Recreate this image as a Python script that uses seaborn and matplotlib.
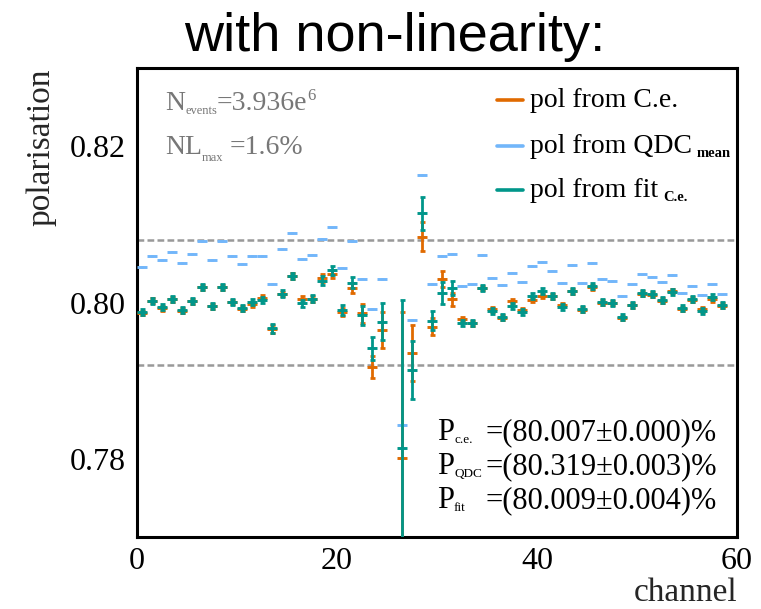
import numpy as np
import pandas as pd
import matplotlib
matplotlib.use("Agg")
import matplotlib.pyplot as plt
import seaborn as sns
from matplotlib.ticker import MultipleLocator, FuncFormatter
from matplotlib.lines import Line2D

# ---- data: per-channel polarisation from three methods ----
channel = list(range(59))
nan = float("nan")

pol_ce = [0.79865, 0.80025, 0.79925, 0.80040, 0.79895, 0.80015, 0.80195, 0.79950, 0.80195, 0.80005,
          0.79920, 0.79977, 0.80062, 0.79660, 0.80110, 0.80335, 0.80040, 0.80045, 0.80310, 0.80360,
          0.79880, 0.80185, 0.79860, 0.79170, 0.79647, nan, 0.78010, 0.79356, 0.80844, 0.79688,
          0.80297, 0.80041, 0.79788, 0.79735, 0.80185, 0.79913, 0.79805, 0.80019, 0.79904, 0.80032,
          0.80083, 0.80078, 0.79968, 0.80145, 0.79910, 0.80195, 0.79998, 0.79992, 0.79800, 0.79962,
          0.80112, 0.80100, 0.80025, 0.80147, 0.79918, 0.80036, 0.79913, 0.80041, 0.79960]
err_ce = [0.0003] * 13 + [0.0005, 0.0003, 0.0004, 0.0004, 0.0004, 0.0005, 0.0005,
          0.0005, 0.0006, 0.0012, 0.0014, 0.0023, nan, 0.0187, 0.0036, 0.0019, 0.0011,
          0.0010, 0.0008] + [0.0003] * 27

pol_qdc = [0.80451, 0.80596, 0.80545, 0.80652, 0.80502, 0.80622, 0.80788, 0.80545, 0.80788, 0.80596,
           0.80494, 0.80596, 0.80596, 0.80237, 0.80684, 0.80887, 0.80554, 0.80612, 0.80814, 0.80960,
           0.80445, 0.80790, 0.80305, 0.79917, 0.80301, nan, 0.78429, 0.79776, 0.81630, 0.80235,
           0.80592, 0.80618, 0.80212, 0.80233, 0.80609, 0.80318, 0.80221, 0.80382, 0.80259, 0.80468,
           0.80515, 0.80408, 0.80246, 0.80481, 0.80246, 0.80502, 0.80301, 0.80276, 0.80083, 0.80233,
           0.80361, 0.80331, 0.80259, 0.80353, 0.80118, 0.80215, 0.80096, 0.80233, 0.80105]
err_qdc = [0.0001] * 59

pol_fit = [0.79882, 0.80019, 0.79938, 0.80045, 0.79904, 0.80019, 0.80199, 0.79959, 0.80203, 0.80010,
           0.79925, 0.80004, 0.80032, 0.79669, 0.80115, 0.80340, 0.79988, 0.80050, 0.80280, 0.80410,
           0.79904, 0.80250, 0.79835, 0.79413, 0.79754, nan, 0.78144, 0.79135, 0.81143, 0.79765,
           0.80118, 0.80182, 0.79733, 0.79741, 0.80190, 0.79895, 0.79810, 0.79955, 0.79882, 0.80083,
           0.80151, 0.80083, 0.79946, 0.80151, 0.79915, 0.80212, 0.80003, 0.79998, 0.79810, 0.79968,
           0.80118, 0.80105, 0.80032, 0.80139, 0.79925, 0.80041, 0.79891, 0.80074, 0.79968]
err_fit = [0.0004] * 13 + [0.0006, 0.0004, 0.0004, 0.0005, 0.0004, 0.0006, 0.0006,
           0.0006, 0.0007, 0.0012, 0.0015, 0.0024, nan, 0.0189, 0.0037, 0.0021, 0.0012,
           0.0014, 0.0009] + [0.0004] * 27

series_keys = ["ce", "qdc", "fit"]
series_text = [("pol from C.e.", ""), ("pol from QDC", "mean"), ("pol from fit", "C.e.")]
band_levels = [0.808, 0.792]
results = [("c.e.", "=(80.007\u00b10.000)%"),
           ("QDC", "=(80.319\u00b10.003)%"),
           ("fit", "=(80.009\u00b10.004)%")]

df = pd.DataFrame({"channel": channel,
                   "ce": pol_ce, "ce_err": err_ce,
                   "qdc": pol_qdc, "qdc_err": err_qdc,
                   "fit": pol_fit, "fit_err": err_fit})
df["x"] = df["channel"] + 0.5

# ---- style ----
sns.set_theme(style="white")
plt.rcParams["font.family"] = ["Liberation Serif", "DejaVu Serif"]

colors = {"ce": "#E06A00", "qdc": "#72B6FA", "fit": "#00968A"}
cap_sizes = {"ce": 1.8, "qdc": 0.0, "fit": 1.8}

W, H = 761, 609
fig = plt.figure(figsize=(W / 100, H / 100), dpi=100)
ax = fig.add_axes([137 / W, 1 - 537 / H, 600 / W, 469 / H])
renderer = fig.canvas.get_renderer()


def px(x, y):
    return x / W, 1 - y / H


def chain(x, y, pieces, color="black"):
    """Write text pieces one after another; each piece is
    (string, fontsize, baseline shift in px (down is +), gap before in px, weight)."""
    cur = x
    for s, size, dy, gap, weight in pieces:
        cur += gap
        t = fig.text(*px(cur, y + dy), s, fontsize=size, color=color,
                     va="baseline", ha="left", fontweight=weight)
        cur = t.get_window_extent(renderer).x1
    return cur


# reference band
for lvl in band_levels:
    ax.axhline(lvl, color="#999999", lw=1.8, ls=(0, (2.7, 1.3)), zorder=1)

# per-channel points: channel-width bars plus vertical error bars
for key, z in (("ce", 3), ("qdc", 4), ("fit", 5)):
    hb = ax.errorbar(df["x"], df[key], xerr=0.5, fmt="none", ecolor=colors[key],
                     elinewidth=2.1, capsize=0, zorder=z)
    for coll in hb.lines[2]:
        coll.set_capstyle("butt")
    ax.errorbar(df["x"], df[key], yerr=df[key + "_err"], fmt="none",
                ecolor=colors[key], elinewidth=2.0, capsize=cap_sizes[key],
                capthick=2.0, zorder=z)

ax.set_xlim(0, 60)
ax.set_ylim(0.77, 0.83)

# axes, ticks
for s in ax.spines.values():
    s.set_linewidth(2.2)
    s.set_color("black")
ax.xaxis.set_major_locator(MultipleLocator(10))
ax.xaxis.set_minor_locator(MultipleLocator(2))
ax.xaxis.set_major_formatter(FuncFormatter(lambda v, p: f"{v:.0f}" if round(v) % 20 == 0 else ""))
ax.yaxis.set_major_locator(MultipleLocator(0.02))
ax.yaxis.set_minor_locator(MultipleLocator(0.002))
ax.yaxis.set_major_formatter(FuncFormatter(lambda v, p: f"{v:.2f}"))
ax.tick_params(axis="both", which="both", direction="in", width=2.0, color="black",
               top=False, right=False, labelsize=23, labelcolor="black")
ax.tick_params(axis="x", which="major", length=11, pad=7)
ax.tick_params(axis="x", which="minor", length=6)
ax.tick_params(axis="y", which="major", length=13, pad=8)
ax.tick_params(axis="y", which="minor", length=7)

ax.set_xlabel("channel", loc="right", fontsize=24, labelpad=1)
ax.set_ylabel("polarisation", loc="top", fontsize=24, labelpad=10)

# legend
row_y = [107, 153, 197]
for key, (label, sub), yb in zip(series_keys, series_text, row_y):
    fig.add_artist(Line2D([497 / W, 523 / W], [1 - (yb - 7) / H] * 2,
                          transform=fig.transFigure, color=colors[key], lw=2.6))
    pieces = [(label, 20, 0, 0, "normal")]
    if sub:
        pieces.append((sub, 10.5, 4, 5, "bold"))
    chain(530, yb, pieces)

# run info
chain(165, 110, [("N", 20, 0, 0, "normal"), ("events", 9, 4, 0, "normal"),
                 ("=3.936e", 20, 0, 0, "normal"), ("6", 12, -10, 0, "normal")],
      color="#777777")
chain(165, 154, [("NL", 20, 0, 0, "normal"), ("max", 9, 7, 0, "normal"),
                 ("=1.6%", 20, 0, 6, "normal")], color="#777777")

# averaged results
for i, (sub, val) in enumerate(results):
    yb = 440 + 34 * i
    chain(437, yb, [("P", 22, 0, 0, "normal"), (sub, 9.5, 3, 0, "normal")])
    fig.text(*px(486, yb), val, fontsize=22, va="baseline", ha="left", color="black")

# title
fig.text(*px(395, 51), "with non-linearity:", fontsize=39, ha="center", va="baseline",
         family=["Liberation Sans", "DejaVu Sans"], color="black")

fig.savefig("out.png", dpi=100)
